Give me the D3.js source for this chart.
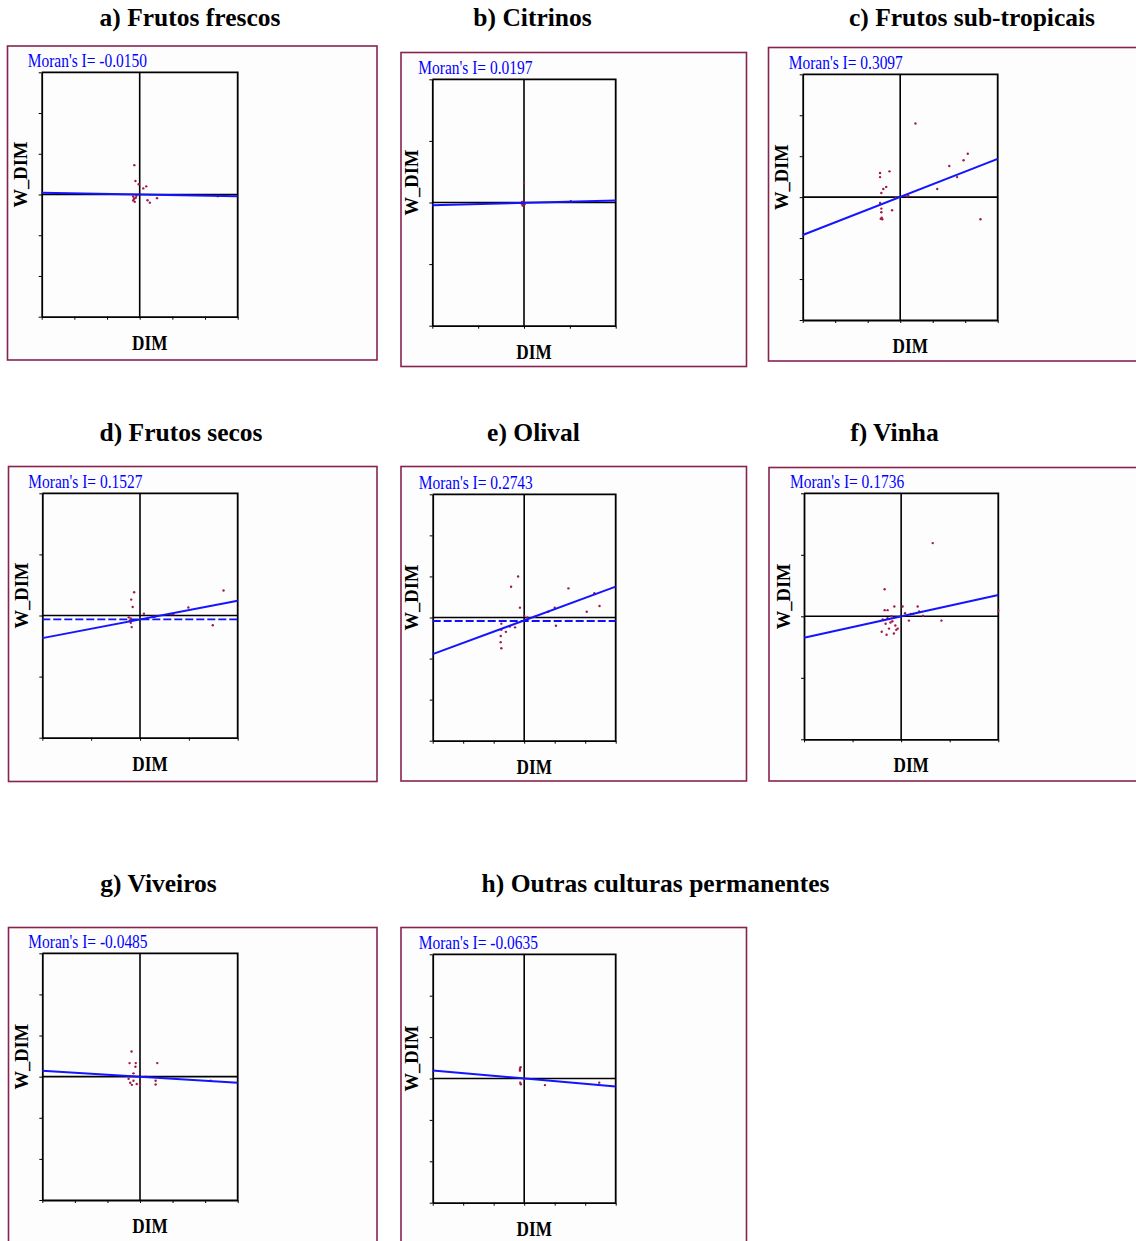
<!DOCTYPE html>
<html>
<head>
<meta charset="utf-8">
<script src="https://cdn.jsdelivr.net/npm/d3@7"></script>
<style>
  body { margin: 0; background: #ffffff; }
  svg { display: block; }
</style>
</head>
<body>
<svg id="chart" width="1136" height="1241"></svg>
<script>
// ---- Data: Moran scatterplots (DIM vs spatially lagged W_DIM) ----
const panelTitles = [
  "a) Frutos frescos", "b) Citrinos", "c) Frutos sub-tropicais",
  "d) Frutos secos", "e) Olival", "f) Vinha",
  "g) Viveiros", "h) Outras culturas permanentes"
];
const moranValues = [-0.0150, 0.0197, 0.3097, 0.1527, 0.2743, 0.1736, -0.0485, -0.0635];
const lineIntercepts = [0, -0.005, 0.005, -0.065, -0.07, 0, 0, 0];
const referenceLevels = [null, null, null, -0.065, -0.085, null, null, null];
const axisExtents = [3, 2, 3, 2, 3, 2, 3, 3];
const xAxisLabel = "DIM";
const yAxisLabel = "W_DIM";

const pointsA = [[-0.165,0.72],[-0.13,0.33],[-0.03,0.25],[0.11,0.15],[0.2,0.2],[0.24,-0.14],[0.31,-0.2],[0.53,-0.09],
  [-0.2,-0.05],[-0.18,-0.12],[-0.15,-0.18],[-0.12,-0.08],[-0.2,-0.15],[-0.1,-0.03],[-0.17,-0.1],[2.39,-0.04]];
const pointsB = [[-0.05,-0.02],[-0.02,-0.04],[0,0],[-0.04,0.01],[0.01,-0.03],[-0.03,-0.05],[0,0.32],[1.02,0.02]];
const pointsC = [[0.47,1.8],[2.08,1.06],[1.95,0.9],[1.51,0.76],[1.75,0.49],[1.14,0.2],[2.47,-0.54],[-0.62,0.59],
  [-0.62,0.49],[-0.33,0.63],[-0.43,0.25],[-0.52,0.2],[-0.58,0.1],[-0.62,-0.14],[-0.58,-0.28],[-0.58,-0.37],
  [-0.6,-0.53],[-0.55,-0.54],[-0.57,-0.5],[-0.25,-0.32],[-0.15,-0.02],[0.22,0.02],[0.25,0.03]];
const pointsD = [[-0.12,0.38],[-0.18,0.26],[-0.15,0.14],[-0.19,-0.05],[-0.19,-0.12],[-0.17,-0.19],[-0.21,-0.08],
  [-0.23,-0.03],[0.08,0.03],[0.99,0.13],[1.71,0.41],[1.49,-0.16],[0.25,-0.02],[0.3,-0.02],[0.63,0.02],[0.68,0.02]];
const pointsE = [[-0.2,1.0],[-0.43,0.75],[-0.14,0.24],[0,0.04],[1.45,0.71],[2.3,0.59],[2.47,0.28],[2.05,0.14],
  [1.0,0.24],[1.04,-0.2],[-0.75,-0.15],[-0.75,-0.3],[-0.77,-0.45],[-0.77,-0.6],[-0.75,-0.75],[-0.6,-0.35],
  [-0.47,-0.22],[-0.3,-0.24],[0.79,0.14],[0.1,0.0],[0.35,0.02]];
const pointsF = [[0.65,1.19],[-0.34,0.44],[-0.34,0.1],[-0.28,0.1],[-0.14,0.16],[0.03,0.16],[0.34,0.16],[0.37,0.08],
  [0.08,0.05],[0.45,0.01],[0.16,-0.07],[0.83,-0.07],[2.0,0.09],[-0.38,-0.05],[-0.32,-0.12],[-0.25,-0.2],
  [-0.18,-0.08],[-0.12,-0.15],[-0.1,-0.22],[-0.4,-0.25],[-0.3,-0.3],[-0.07,-0.2],[-0.22,-0.1],[-0.28,-0.03],
  [-0.15,-0.28],[-0.2,0.0],[0.2,0.04],[0.25,0.04]];
const pointsG = [[-0.26,0.61],[-0.32,0.33],[-0.13,0.33],[-0.14,0.24],[0.53,0.33],[-0.2,0.08],[-0.35,-0.05],
  [-0.3,-0.15],[-0.25,-0.2],[-0.1,-0.18],[0.0,-0.2],[-0.2,-0.1],[0.48,-0.1],[0.48,-0.19],[0.17,0],[2.17,-0.1]];
const pointsH = [[-0.14,0.23],[-0.14,0.19],[-0.12,0.27],[-0.11,-0.14],[-0.13,-0.1],[0.68,-0.16],[2.46,-0.1],[0,0]];
const panelPoints = [pointsA, pointsB, pointsC, pointsD, pointsE, pointsF, pointsG, pointsH];

// ---- Layout: outer frame and plot box of each panel [left, top, right, bottom] ----
const frameBoxes = [
  [7.5, 46, 377, 360], [401, 52.5, 746.5, 366.5], [768.5, 47.5, 1140, 361],
  [8.5, 466.5, 377, 781.5], [401, 466.5, 746.5, 781], [769, 467.5, 1140, 781],
  [8.5, 927.5, 377, 1250], [401, 927.5, 746.5, 1250]
];
const plotBoxes = [
  [41.7, 72.3, 237.7, 316.7], [432.3, 79.3, 615.7, 325.7], [802.7, 74.3, 997.7, 320],
  [42.3, 493.3, 237.7, 737.7], [432.7, 494.3, 615.7, 740.7], [804, 493.3, 998.3, 739.3],
  [42.3, 953.3, 237.7, 1200], [432.7, 954.3, 615.7, 1202.7]
];
const titleAnchors = [[190, 26], [532.5, 26], [972, 26], [181, 441], [533.5, 441], [894.5, 441], [158.5, 892], [655.5, 892]];

const serif = "'Liberation Serif', 'Times New Roman', Times, serif";
const svg = d3.select("#chart");

panelTitles.forEach((title, i) => {
  const [fl, ft, fr, fb] = frameBoxes[i];
  const [pl, pt, pr, pb] = plotBoxes[i];
  const e = axisExtents[i];
  const g = svg.append("g");

  // Panel title
  svg.append("text")
    .attr("x", titleAnchors[i][0]).attr("y", titleAnchors[i][1])
    .attr("text-anchor", "middle")
    .style("font-family", serif).style("font-weight", "bold").style("font-size", "25.5px")
    .text(title);

  // Outer frame
  g.append("rect")
    .attr("x", fl).attr("y", ft).attr("width", fr - fl).attr("height", fb - ft)
    .attr("fill", "#fdfdfd").attr("stroke", "#86234f").attr("stroke-width", 1.6);

  const x = d3.scaleLinear().domain([-e, e]).range([pl, pr]);
  const y = d3.scaleLinear().domain([-e, e]).range([pb, pt]);
  const ticks = d3.range(-e, e + 1);

  // Axes with outward ticks and no tick labels
  const ax = g.append("g").attr("transform", `translate(0,${pb})`)
    .call(d3.axisBottom(x).tickValues(ticks).tickSize(3).tickSizeOuter(0).tickFormat(""));
  const ay = g.append("g").attr("transform", `translate(${pl},0)`)
    .call(d3.axisLeft(y).tickValues(ticks).tickSize(3).tickSizeOuter(0).tickFormat(""));
  [ax, ay].forEach(a => {
    a.select(".domain").attr("stroke", "#000").attr("stroke-width", 1.8);
    a.selectAll(".tick line").attr("stroke", "#000").attr("stroke-width", 1);
  });

  // Remaining sides of the plot box
  g.append("path")
    .attr("d", `M${pl},${pt}H${pr}V${pb}`)
    .attr("fill", "none").attr("stroke", "#000").attr("stroke-width", 1.8);

  // Quadrant lines through the origin
  g.append("line").attr("x1", x(0)).attr("x2", x(0)).attr("y1", pt).attr("y2", pb)
    .attr("stroke", "#000").attr("stroke-width", 1.6);
  g.append("line").attr("x1", pl).attr("x2", pr).attr("y1", y(0)).attr("y2", y(0))
    .attr("stroke", "#000").attr("stroke-width", 1.6);

  // Dashed reference level
  if (referenceLevels[i] !== null) {
    g.append("line")
      .attr("x1", pl).attr("x2", pr)
      .attr("y1", y(referenceLevels[i])).attr("y2", y(referenceLevels[i]))
      .attr("stroke", "#1010ff").attr("stroke-width", 1.8).attr("stroke-dasharray", "8,3");
  }

  // Points
  g.selectAll("circle.pt").data(panelPoints[i]).join("circle")
    .attr("class", "pt")
    .attr("cx", d => x(d[0])).attr("cy", d => y(d[1]))
    .attr("r", 1.2).attr("fill", "#9e1a4e");

  // Regression line: slope equals Moran's I
  const fit = d3.line().x(d => x(d)).y(d => y(lineIntercepts[i] + moranValues[i] * d));
  g.append("path").datum([-e, e]).attr("d", fit)
    .attr("fill", "none").attr("stroke", "#1414ff").attr("stroke-width", 2);

  // Moran's I label
  const fmt = v => (v < 0 ? "-" : "") + Math.abs(v).toFixed(4);
  g.append("text")
    .attr("transform", `translate(${pl - 14},${pt - 5.5}) scale(0.86,1)`)
    .style("font-family", serif).style("font-size", "18px").attr("fill", "#0000ff")
    .text(`Moran's I= ${fmt(moranValues[i])}`);

  // Axis titles
  g.append("text")
    .attr("transform", `translate(${pl - 14.5},${(pt + pb) / 2 - 20}) rotate(-90)`)
    .attr("text-anchor", "middle")
    .style("font-family", serif).style("font-weight", "bold").style("font-size", "18.5px")
    .text(yAxisLabel);
  g.append("text")
    .attr("transform", `translate(${(pl + pr) / 2 + 10},${pb + 33}) scale(0.84,1)`)
    .attr("text-anchor", "middle")
    .style("font-family", serif).style("font-weight", "bold").style("font-size", "20.5px")
    .text(xAxisLabel);
});
</script>
</body>
</html>
